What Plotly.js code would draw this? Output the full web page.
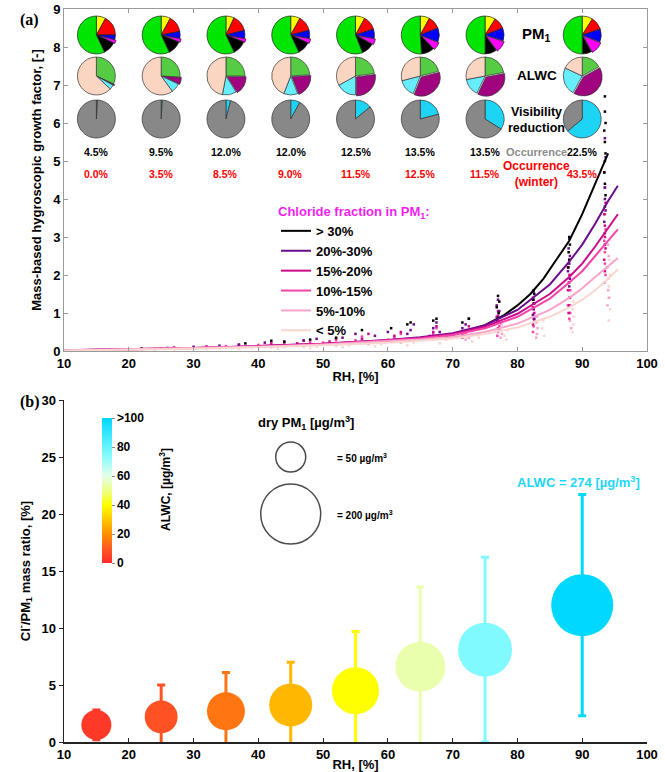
<!DOCTYPE html>
<html><head><meta charset="utf-8">
<script src="https://cdn.plot.ly/plotly-3.0.1.min.js"></script>
<style>html,body{margin:0;padding:0;background:#fff}</style>
</head><body><div id="chart" style="width:665px;height:772px"></div>
<script>
// ================= DATA =================
const rhBins = [15, 25, 35, 45, 55, 65, 75, 90];

// PM1 composition pies (%), clockwise from 12 o'clock
const pm1NH4 = [8, 8, 7, 8, 8, 8, 9, 9];
const pm1SO4 = [17, 14, 14, 13, 12, 11, 10, 11];
const pm1NO3 = [4, 6, 7, 7, 8, 12, 11, 11];
const pm1Chl = [3, 3, 3, 4, 5, 7, 10, 11];
const pm1BC  = [11, 12, 12, 11, 11, 11, 10, 8];
const pm1Org = [57, 57, 57, 57, 56, 51, 50, 50];

// ALWC contribution pies (%)
const alwcA = [32, 26, 25, 24, 23, 21, 22, 17];
const alwcB = [1, 6, 16, 20, 27, 35, 35, 41];
const alwcC = [4, 8, 12, 12, 17, 15, 15, 24];
const alwcD = [63, 60, 47, 44, 33, 29, 28, 18];

// Visibility reduction pies (%)
const visRed = [1, 1, 4, 8, 14, 21, 34, 64];

// Occurrence (%)
const occAll = [4.5, 9.5, 12.0, 12.0, 12.5, 13.5, 13.5, 22.5];
const occWinter = [0.0, 3.5, 8.5, 9.0, 11.5, 12.5, 11.5, 43.5];

// Chloride-fraction classes
const clClasses = ['> 30%', '20%-30%', '15%-20%', '10%-15%', '5%-10%', '< 5%'];

// fitted curves
const curveRH = [10, 20, 30, 40, 50, 60, 65, 70, 75, 80, 85, 88, 90, 92, 94, 95.5];
const curveHighRH = [68, 70, 72, 75, 78, 80, 82, 84, 86, 88, 90, 92, 94];
const fitGt30 = [0.36, 0.42, 0.52, 0.68, 0.95, 1.2, 1.5, 1.9, 2.4, 2.9, 3.6, 4.4, 5.2];
const fit20_30 = [0.02, 0.05, 0.08, 0.13, 0.19, 0.29, 0.36, 0.47, 0.68, 1.08, 1.75, 2.35, 2.8, 3.35, 3.95, 4.35];
const fit15_20 = [0.02, 0.05, 0.08, 0.13, 0.19, 0.28, 0.35, 0.45, 0.64, 0.98, 1.5, 1.95, 2.3, 2.75, 3.25, 3.6];
const fit10_15 = [0.02, 0.04, 0.08, 0.12, 0.18, 0.27, 0.33, 0.42, 0.6, 0.9, 1.38, 1.8, 2.1, 2.5, 2.9, 3.2];
const fit5_10  = [0.01, 0.04, 0.07, 0.11, 0.17, 0.25, 0.3, 0.37, 0.5, 0.72, 1.08, 1.4, 1.65, 1.95, 2.25, 2.45];
const fitLt5   = [0.01, 0.03, 0.06, 0.1, 0.15, 0.22, 0.27, 0.33, 0.45, 0.62, 0.9, 1.15, 1.35, 1.6, 1.9, 2.15];

// observed points
const ptGt30X = [93.5,93.5,93.6,93.4,93.5,93.6,93.5,93.4,93.5,93.6,93.5, 88,88.1,87.9,88,87.8, 82.5,82.6,82.4,82.5, 77,77.2,76.8,77.1, 72.5,71.5, 67.5,67, 63.5,63, 60.5, 56, 52, 48, 44, 42, 38];
const ptGt30Y = [6.7,6.3,6.0,5.8,5.5,5.2,5.0,4.7,4.4,4.1,3.8, 3.0,2.8,2.6,2.4,2.2, 1.6,1.5,1.35,1.25, 1.45,1.3,1.15,1.0, 0.85,0.75, 0.85,0.8, 0.75,0.7, 0.6, 0.55, 0.35, 0.3, 0.24, 0.27, 0.2];
const pt20_30X = [93.5,93.6,93.4,93.5,93.5,93.6,93.4,93.5,93.5, 88,87.9,88.1,88,87.8,88.1,88, 82.5,82.4,82.6,82.5,82.4,82.6, 77,76.8,77.2,77,76.9, 72.5,72,71.5, 67.5,67,68, 64,63.5,63, 60,58, 55,53, 49,47, 44,41, 37,34, 30,26, 22];
const pt20_30Y = [5.6,5.1,4.7,4.3,4.0,3.7,3.4,3.1,2.8, 2.95,2.7,2.5,2.3,2.1,1.9,1.7, 1.55,1.4,1.25,1.1,0.95,0.85, 1.35,1.2,1.05,0.9,0.8, 0.85,0.7,0.6, 0.75,0.6,0.5, 0.7,0.55,0.45, 0.5,0.4, 0.45,0.35, 0.32,0.28, 0.25,0.22, 0.17,0.14, 0.11,0.08, 0.06];
const pt15_20X = [93.5,93.6,93.4,93.5,93.5,93.6,93.4,93.5, 88,87.9,88.1,88,87.8,88.1,88,87.9, 82.5,82.4,82.6,82.5,82.4, 77,76.8,77.2,77, 72.5,72,71.5, 67.5,67,66.5, 62,61, 57,56, 52,51, 47,46, 42,37, 32,27, 22,17];
const pt15_20Y = [4.3,3.9,3.6,3.3,3.0,2.7,2.4,2.1, 2.4,2.2,2.0,1.8,1.6,1.4,1.2,1.0, 1.35,1.15,1.0,0.85,0.7, 1.05,0.9,0.75,0.6, 0.65,0.55,0.45, 0.65,0.5,0.4, 0.5,0.4, 0.45,0.32, 0.33,0.25, 0.27,0.2, 0.2,0.16, 0.12,0.09, 0.06,0.04];
const pt10_15X = [93.5,93.6,93.4,93.5,93.5,93.6,93.4, 88,87.9,88.1,88,87.8,88.1,88, 82.5,82.4,82.6,82.5,82.4, 77,76.8,77.2,77,76.9, 72.5,72,71.5, 67.5,67,66.5, 62,61,60, 56,55, 52,50, 48,46, 44,42, 40,37, 35,32, 30,27, 25,22, 20,17, 15,12];
const pt10_15Y = [3.6,3.2,2.9,2.6,2.3,2.0,1.8, 2.0,1.8,1.6,1.4,1.2,1.0,0.85, 1.1,0.95,0.8,0.65,0.5, 0.95,0.8,0.65,0.5,0.4, 0.55,0.45,0.35, 0.6,0.45,0.35, 0.45,0.35,0.3, 0.38,0.28, 0.28,0.22, 0.24,0.17, 0.2,0.14, 0.16,0.12, 0.13,0.1, 0.1,0.08, 0.07,0.06, 0.05,0.04, 0.03,0.02];
const pt5_10X = [94,94.1,93.9,94,94,94.1,93.9, 88.2,88.1,88.3,88.2,88.1,88.3, 83,82.9,83.1,83,82.9, 77.5,77.3,77.6,77.4, 73,72.5,72, 68,67, 63,62, 58,57, 53,52, 48,47, 43,42, 38,36, 33,30, 27,24, 21,18, 15,12];
const pt5_10Y = [2.8,2.5,2.2,1.9,1.6,1.4,1.2, 1.6,1.4,1.2,1.0,0.8,0.6, 0.9,0.75,0.6,0.45,0.35, 0.7,0.55,0.45,0.35, 0.45,0.35,0.3, 0.4,0.3, 0.3,0.22, 0.25,0.18, 0.2,0.15, 0.17,0.12, 0.13,0.1, 0.1,0.08, 0.08,0.06, 0.06,0.05, 0.04,0.03, 0.02,0.02];
const ptLt5X = [94.2,94.3,94.1,94.2,94.3,94.1, 88.6,88.5,88.7,88.6,88.5, 84,83.8,84.1, 78.5,78,78.3, 74,73, 69,68, 64,63, 59,58, 54,53, 49,48, 44,43, 39,37, 34,32, 29,27, 24,22, 19,17, 14,12];
const ptLt5Y = [2.4,2.0,1.7,1.4,1.1,0.8, 1.3,1.1,0.9,0.7,0.5, 0.8,0.6,0.4, 0.55,0.4,0.3, 0.35,0.25, 0.3,0.2, 0.22,0.15, 0.18,0.12, 0.15,0.1, 0.12,0.08, 0.1,0.06, 0.08,0.06, 0.06,0.05, 0.05,0.04, 0.03,0.03, 0.02,0.02, 0.01,0.01];

// panel (b)
const clRatio = [1.5, 2.2, 2.7, 3.25, 4.5, 6.6, 8.1, 12.0];
const clStd   = [1.3, 2.8, 3.4, 3.75, 5.2, 7.0, 8.1, 9.7];
const pm1Dry  = [50, 60, 80, 103, 123, 139, 162, 214];
const alwcBin = [3, 8, 15, 27, 40, 54, 75, 274];
const refPM1  = [50, 200];
const refPM1Labels = ['= 50 µg/m<sup>3</sup>', '= 200 µg/m<sup>3</sup>'];

// ================= LAYOUT HELPERS =================
const W = 665, H = 772, L = 64, R = 18, T = 9, B = 30;
const pw = W - L - R, ph = H - T - B;
const px2x = p => (p - L) / pw;
const py2y = p => 1 - (p - T) / ph;
const rhToPx = rh => L + (rh - 10) / 90 * pw;
const FONT = 'Liberation Sans, Arial, sans-serif';

const clColors = ['#000000', '#6B0C8C', '#CC0A8A', '#F545AA', '#FBA3C8', '#F9D6CF'];
const ptX = [ptGt30X, pt20_30X, pt15_20X, pt10_15X, pt5_10X, ptLt5X];
const ptY = [ptGt30Y, pt20_30Y, pt15_20Y, pt10_15Y, pt5_10Y, ptLt5Y];
const fits = [fitGt30, fit20_30, fit15_20, fit10_15, fit5_10, fitLt5];

const traces = [];
for (let k = 5; k >= 0; k--) {
  traces.push({type: 'scatter', mode: 'markers', x: ptX[k], y: ptY[k], xaxis: 'x', yaxis: 'y',
    marker: {size: 2.5, color: clColors[k], symbol: 'square'}, showlegend: false, hoverinfo: 'skip'});
}
for (let k = 0; k < 6; k++) {
  traces.push({type: 'scatter', mode: 'lines', x: k === 0 ? curveHighRH : curveRH, y: fits[k],
    xaxis: 'x', yaxis: 'y', name: clClasses[k], line: {color: clColors[k], width: 2}, showlegend: true});
}

// pies
const pieR = 19;
const pmColors = ['#FFFF00', '#FF0000', '#0000FF', '#FF00FF', '#000000', '#00E600'];
const alwcColors = ['#55CC44', '#A0057F', '#66EEFF', '#FAD6C2'];
const visColors = ['#1ED4F5', '#888888'];
function pieDomain(rh, cy, r) {
  const cx = rhToPx(rh);
  return {x: [px2x(cx - r), px2x(cx + r)], y: [py2y(cy + r), py2y(cy - r)]};
}
rhBins.forEach((rh, i) => {
  traces.push({type: 'pie', sort: false, direction: 'clockwise', rotation: 0,
    labels: ['NH4', 'SO4', 'NO3', 'Chl', 'BC', 'Org'],
    values: [pm1NH4[i], pm1SO4[i], pm1NO3[i], pm1Chl[i], pm1BC[i], pm1Org[i]],
    pull: [0, 0, 0, 0.07, 0, 0],
    marker: {colors: pmColors, line: {color: '#222', width: 0.7}},
    textinfo: 'none', hoverinfo: 'label+percent', showlegend: false,
    domain: pieDomain(rh, 35, pieR * 1.07)});
  traces.push({type: 'pie', sort: false, direction: 'clockwise', rotation: 0,
    labels: ['Organic', 'Chloride', 'Nitrate', 'Sulfate'],
    values: [alwcA[i], alwcB[i], alwcC[i], alwcD[i]],
    pull: [0, 0.07, 0, 0],
    marker: {colors: alwcColors, line: {color: '#333', width: 0.7}},
    textinfo: 'none', hoverinfo: 'label+percent', showlegend: false,
    domain: pieDomain(rh, 76, pieR * 1.07)});
  traces.push({type: 'pie', sort: false, direction: 'clockwise', rotation: 0,
    labels: ['Reduction', 'Other'],
    values: [visRed[i], 100 - visRed[i]],
    marker: {colors: visColors, line: {color: '#333', width: 0.7}},
    textinfo: 'none', hoverinfo: 'label+percent', showlegend: false,
    domain: pieDomain(rh, 119, pieR)});
});

// panel b colours
const alwcScale = [[0, '#FF2B2B'], [0.1, '#FF5A22'], [0.2, '#FF9000'], [0.3, '#FFC800'], [0.4, '#FFFF00'],
  [0.5, '#EEFF88'], [0.6, '#E4FFE8'], [0.75, '#80FAFF'], [1, '#00D8FF']];
function hex2rgb(h) { return [1, 3, 5].map(j => parseInt(h.substr(j, 2), 16)); }
function scaleColor(v) {
  const t = Math.max(0, Math.min(1, v / 100));
  for (let j = 1; j < alwcScale.length; j++) {
    if (t <= alwcScale[j][0]) {
      const a = alwcScale[j - 1], b = alwcScale[j];
      const f = (t - a[0]) / (b[0] - a[0]);
      const ca = hex2rgb(a[1]), cb = hex2rgb(b[1]);
      const c = ca.map((q, n) => Math.round(q + (cb[n] - q) * f));
      return 'rgb(' + c.join(',') + ')';
    }
  }
  return alwcScale[alwcScale.length - 1][1];
}
rhBins.forEach((rh, i) => {
  traces.push({type: 'scatter', mode: 'markers', x: [rh], y: [clRatio[i]], xaxis: 'x2', yaxis: 'y2',
    marker: {size: 1, color: 'rgba(0,0,0,0)'}, showlegend: false, hoverinfo: 'skip',
    error_y: {type: 'data', array: [clStd[i]], color: scaleColor(alwcBin[i]), thickness: 3, width: 4}});
});
const sref = 100 / 900;   // 50 ug/m3 -> 30 px circle
traces.push({type: 'scatter', mode: 'markers', x: rhBins, y: clRatio, xaxis: 'x2', yaxis: 'y2',
  showlegend: false, text: pm1Dry.map(v => 'PM1 ' + v),
  marker: {size: pm1Dry, sizemode: 'area', sizeref: sref, color: alwcBin, cmin: 0, cmax: 100,
    colorscale: alwcScale, opacity: 1, line: {width: 0},
    colorbar: {x: px2x(102), xanchor: 'left', y: py2y(490.5), yanchor: 'middle', len: 145 / ph, lenmode: 'fraction',
      thickness: 10, outlinewidth: 0, tickvals: [0, 20, 40, 60, 80, 100], ticktext: ['0', '20', '40', '60', '80', '>100'],
      ticks: 'outside', ticklen: 3, tickcolor: '#888', tickfont: {family: FONT, size: 12, color: '#000', weight: 'bold'},
      xpad: 0, ypad: 0}}});
traces.push({type: 'scatter', mode: 'markers', x: [45, 45], y: [25, 20], xaxis: 'x2', yaxis: 'y2', showlegend: false,
  hoverinfo: 'skip', marker: {size: refPM1, sizemode: 'area', sizeref: sref, color: 'rgba(0,0,0,0)', line: {color: '#000', width: 1.5}}});

const tickFont = {family: FONT, size: 13, color: '#000', weight: 'bold'};
const titleFont = {family: FONT, size: 13, color: '#000', weight: 'bold'};
const axA = {showline: true, mirror: 'ticks', linecolor: '#9a9a9a', linewidth: 1, ticks: 'inside', ticklen: 4,
  tickcolor: '#9a9a9a', showgrid: false, zeroline: false, tickfont: tickFont};
const axB = {showline: true, mirror: false, linecolor: '#222', linewidth: 1.5, ticks: 'outside', ticklen: 4,
  tickcolor: '#222', showgrid: false, zeroline: false, tickfont: tickFont};

const ann = [];
const ba = (txt, x, y, size, color, extra) => Object.assign({text: txt, x: x, y: y, xref: 'x', yref: 'y', showarrow: false,
  font: {family: FONT, size: size, color: color, weight: 'bold'}}, extra || {});
ann.push(ba('PM<sub>1</sub>', 83, 8.32, 15, '#000'));
ann.push(ba('ALWC', 83, 7.24, 13.5, '#000'));
ann.push(ba('Visibility<br>reduction', 83, 6.08, 12.5, '#000'));
ann.push(ba('Occurrence', 83, 5.24, 11, '#8c8c8c'));
ann.push(ba('Occurrence<br>(winter)', 83, 4.66, 12, '#FF0000'));
rhBins.forEach((rh, i) => {
  ann.push(ba(occAll[i].toFixed(1) + '%', rh, 5.24, 10.5, '#000'));
  ann.push(ba(occWinter[i].toFixed(1) + '%', rh, 4.66, 10.5, '#FF0000'));
});
const bb = (txt, x, y, size, color, extra) => Object.assign({text: txt, x: x, y: y, xref: 'x2', yref: 'y2', showarrow: false,
  font: {family: FONT, size: size, color: color, weight: 'bold'}}, extra || {});
ann.push(bb('dry PM<sub>1</sub> [µg/m<sup>3</sup>]', 47.3, 28.0, 13, '#000'));
ann.push(bb(refPM1Labels[0], 51.8, 24.9, 10, '#000', {xanchor: 'left'}));
ann.push(bb(refPM1Labels[1], 51.8, 19.9, 10, '#000', {xanchor: 'left'}));
ann.push(bb('ALWC = 274 [µg/m<sup>3</sup>]', 89.5, 22.8, 13, '#1ED6F6'));
ann.push({text: 'ALWC, [µg/m<sup>3</sup>]', xref: 'paper', yref: 'paper', x: px2x(155), y: py2y(490), textangle: -90,
  showarrow: false, font: {family: FONT, size: 12, color: '#000', weight: 'bold'}});
ann.push({text: '(a)', xref: 'paper', yref: 'paper', x: px2x(18), y: py2y(9), showarrow: false,
  font: {family: 'Liberation Serif, Times New Roman, serif', size: 16, color: '#000', weight: 'bold'}});
ann.push({text: '(b)', xref: 'paper', yref: 'paper', x: px2x(18), y: py2y(402), showarrow: false,
  font: {family: 'Liberation Serif, Times New Roman, serif', size: 16, color: '#000', weight: 'bold'}});

const layout = {
  width: W, height: H, margin: {l: L, r: R, t: T, b: B}, paper_bgcolor: '#fff', plot_bgcolor: 'rgba(0,0,0,0)',
  font: {family: FONT},
  xaxis: Object.assign({}, axA, {domain: [0, 1], anchor: 'y', range: [10, 100], tickvals: [10,20,30,40,50,60,70,80,90,100],
    title: {text: 'RH, [%]', font: titleFont, standoff: 2}}),
  yaxis: Object.assign({}, axA, {domain: [py2y(351), 1], anchor: 'x', range: [0, 9], dtick: 1,
    title: {text: 'Mass-based hygroscopic growth factor, [-]', font: titleFont, standoff: 8}}),
  xaxis2: Object.assign({}, axB, {domain: [0, 1], anchor: 'y2', range: [10, 100], tickvals: [10,20,30,40,50,60,70,80,90,100],
    ticks: 'inside', title: {text: 'RH, [%]', font: titleFont, standoff: 0}}),
  yaxis2: Object.assign({}, axB, {domain: [0, py2y(400)], anchor: 'x2', range: [0, 30], dtick: 5,
    title: {text: 'Cl<sup>-</sup>/PM<sub>1</sub> mass ratio, [%]', font: titleFont, standoff: 8}}),
  legend: {x: px2x(276), y: py2y(199), xanchor: 'left', yanchor: 'top', bgcolor: 'rgba(0,0,0,0)',
    font: {family: FONT, size: 13, color: '#000', weight: 'bold'}, tracegroupgap: 0,
    title: {text: 'Chloride fraction in PM<sub>1</sub>:', font: {family: FONT, size: 13, color: '#EE1FEE', weight: 'bold'}}},
  annotations: ann, showlegend: true
};
Plotly.newPlot('chart', traces, layout, {displayModeBar: false, staticPlot: true});
</script></body></html>
